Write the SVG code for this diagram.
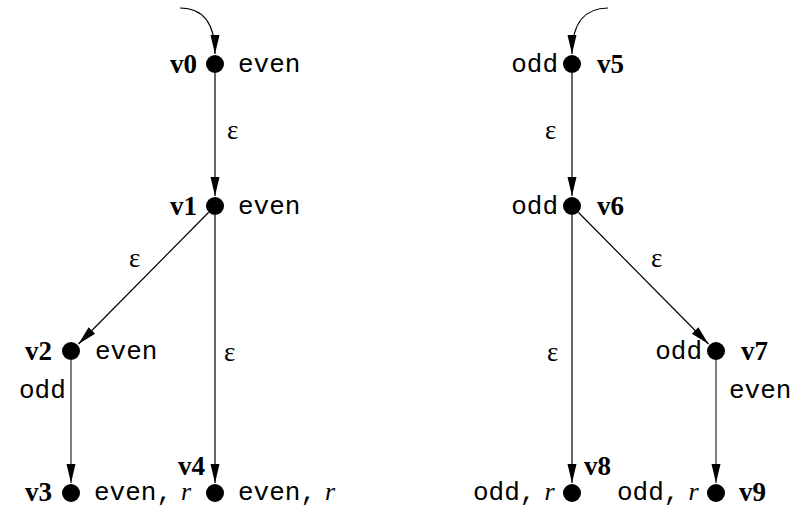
<svg xmlns="http://www.w3.org/2000/svg" width="797" height="506" viewBox="0 0 797 506">
<style>
.mono{font-family:"Liberation Mono","DejaVu Sans Mono","Courier New",monospace;font-size:26px;fill:#000}
.lbl{font-family:"Liberation Serif","Times New Roman",serif;font-size:27px;font-weight:bold;fill:#000}
.eps{font-family:"Liberation Serif","Times New Roman",serif;font-size:27px;fill:#000}
.it{font-family:"Liberation Serif","Times New Roman",serif;font-style:italic}
.e{fill:none;stroke:#000;stroke-width:1.2}
.g{fill:none;stroke:#808080;stroke-width:2}
.n{fill:#000}
</style>
<defs>
<marker id="ah" markerUnits="userSpaceOnUse" markerWidth="20" markerHeight="12" viewBox="0 0 20 12" refX="19" refY="6" orient="auto">
<path d="M0,1.5 L19,6 L0,10.5 Z" fill="#000"/>
</marker>
</defs>
<g id="connectors">
<path class="e" d="M180,8 C202,8 215,22 215,54" marker-end="url(#ah)"/>
<path class="e" d="M608,8 C586,8 572,22 572,54" marker-end="url(#ah)"/>
<line class="e" x1="215" y1="73" x2="215" y2="196" marker-end="url(#ah)"/>
<line class="e" x1="208.5" y1="212.5" x2="78.5" y2="344" marker-end="url(#ah)"/>
<line class="e" x1="215" y1="215" x2="215" y2="483" marker-end="url(#ah)"/>
<line class="g" x1="71" y1="360" x2="71" y2="483" marker-end="url(#ah)"/>
<line class="e" x1="572" y1="73" x2="572" y2="196" marker-end="url(#ah)"/>
<line class="e" x1="578.5" y1="212.5" x2="708.5" y2="344" marker-end="url(#ah)"/>
<line class="e" x1="572" y1="215" x2="572" y2="483" marker-end="url(#ah)"/>
<line class="g" x1="716" y1="360" x2="716" y2="483" marker-end="url(#ah)"/>
<text class="eps" x="227" y="139">ε</text>
<text class="eps" x="129" y="267">ε</text>
<text class="eps" x="224" y="361">ε</text>
<text class="mono" x="19" y="398">odd</text>
<text class="eps" x="545" y="139">ε</text>
<text class="eps" x="651" y="267">ε</text>
<text class="eps" x="547" y="361">ε</text>
<text class="mono" x="729" y="398">even</text>
</g>
<g id="v0"><circle class="n" cx="215" cy="64" r="9"/><text class="lbl" x="197" y="73" text-anchor="end">v0</text><text class="mono" x="238" y="72">even</text></g>
<g id="v1"><circle class="n" cx="215" cy="206" r="9"/><text class="lbl" x="197" y="215" text-anchor="end">v1</text><text class="mono" x="238" y="214">even</text></g>
<g id="v2"><circle class="n" cx="71" cy="351" r="9"/><text class="lbl" x="52" y="360" text-anchor="end">v2</text><text class="mono" x="95" y="359">even</text></g>
<g id="v3"><circle class="n" cx="71" cy="493" r="9"/><text class="lbl" x="52" y="501" text-anchor="end">v3</text><text class="mono" x="94" y="500">even,<tspan class="it" dx="9">r</tspan></text></g>
<g id="v4"><circle class="n" cx="215" cy="493" r="9"/><text class="lbl" x="205" y="475" text-anchor="end">v4</text><text class="mono" x="238" y="500">even,<tspan class="it" dx="9">r</tspan></text></g>
<g id="v5"><circle class="n" cx="572" cy="64" r="9"/><text class="mono" x="558" y="72" text-anchor="end">odd</text><text class="lbl" x="597" y="73">v5</text></g>
<g id="v6"><circle class="n" cx="572" cy="206" r="9"/><text class="mono" x="558" y="214" text-anchor="end">odd</text><text class="lbl" x="597" y="215">v6</text></g>
<g id="v7"><circle class="n" cx="716" cy="351" r="9"/><text class="mono" x="702" y="359" text-anchor="end">odd</text><text class="lbl" x="741" y="360">v7</text></g>
<g id="v8"><circle class="n" cx="572" cy="493" r="9"/><text class="lbl" x="584" y="475">v8</text><text class="mono" x="473" y="500">odd,<tspan class="it" dx="9">r</tspan></text></g>
<g id="v9"><circle class="n" cx="716" cy="493" r="9"/><text class="lbl" x="739" y="501">v9</text><text class="mono" x="617" y="500">odd,<tspan class="it" dx="9">r</tspan></text></g>
</svg>
